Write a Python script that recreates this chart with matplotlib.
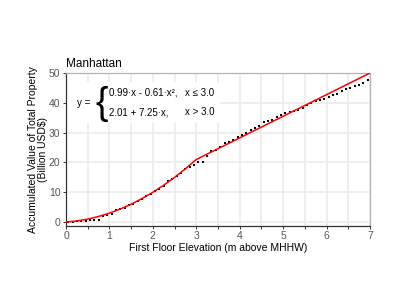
import numpy as np
import matplotlib
matplotlib.use('Agg')
import matplotlib.pyplot as plt
from matplotlib.ticker import MultipleLocator

plt.rcParams['font.family'] = ['Liberation Sans', 'DejaVu Sans']

# observed points (bin midpoints, m above MHHW) and accumulated value (billion USD)
elev = np.round(np.arange(0.05, 7.0, 0.1), 2)
value = [0.2, 0.2, 0.3, 0.45, 0.45, 0.65, 0.7, 0.7, 2.2, 2.5,
         2.8, 3.9, 4.5, 4.9, 5.7, 6.2, 7.0, 7.9, 8.8, 9.4,
         10.4, 11.1, 12.2, 13.9, 14.4, 15.3, 16.4, 17.9, 18.5, 19.3,
         20.0, 20.1, 22.3, 23.7, 24.3, 25.3, 26.4, 27.0, 27.6, 28.7,
         29.1, 30.0, 31.0, 31.6, 32.1, 33.7, 33.9, 34.4, 35.1, 36.0,
         36.6, 36.9, 37.3, 37.7, 38.4, 39.3, 39.8, 40.5, 41.0, 41.4,
         42.1, 42.6, 43.1, 43.8, 44.6, 45.1, 45.7, 46.1, 46.8, 47.6]

# fitted piecewise curve
fit_x = [0, 0.25, 0.5, 0.75, 1.0, 1.25, 1.5, 1.75, 2.0, 2.25, 2.5, 2.75, 3.0, 7.0]
fit_y = [0, 0.4, 1.0, 1.9, 3.0, 4.4, 6.0, 7.9, 10.0, 12.4, 15.0, 17.9, 21.0, 50.0]

fig = plt.figure(figsize=(3.99, 3.08), dpi=100)
ax = fig.add_axes([66/399, 1 - 225.7/308, 304/399, 152.7/308])

ax.scatter(elev, value, marker='s', s=4.5, color='black', linewidths=0, zorder=3)
ax.plot(fit_x, fit_y, color='red', lw=1.1, zorder=4)

ax.set_xlim(0, 7)
ax.set_ylim(-1.2, 50)
ax.xaxis.set_major_locator(MultipleLocator(1))
ax.xaxis.set_minor_locator(MultipleLocator(0.5))
ax.yaxis.set_major_locator(MultipleLocator(10))
ax.grid(True, which='both', axis='x', color='#ebebeb', lw=1.2, zorder=0)
ax.grid(True, which='major', axis='y', color='#ebebeb', lw=1.2, zorder=0)
ax.set_axisbelow(True)

for s in ['left', 'bottom']:
    ax.spines[s].set_color('#333333')
    ax.spines[s].set_linewidth(0.9)
for s in ['top', 'right']:
    ax.spines[s].set_color('#b3b3b3')
    ax.spines[s].set_linewidth(0.9)

ax.tick_params(which='both', length=2.5, width=0.7, color='#333333',
               labelsize=7.5, labelcolor='#555555', pad=1.5)

ax.set_xlabel('First Floor Elevation (m above MHHW)', fontsize=7.5, labelpad=1)
ax.set_ylabel('Accumulated Value of Total Property\n(Billion USD$)', fontsize=7.5,
              labelpad=0.5, linespacing=1.0)
ax.set_title('Manhattan', fontsize=8.5, loc='left', pad=4)

# equation box
ax.add_patch(plt.Rectangle((0.003, 0.673), 0.505, 0.268, transform=ax.transAxes,
                           facecolor='white', edgecolor='none', zorder=2))
ax.text(0.059, 0.804, 'y =', transform=ax.transAxes, fontsize=7,
        ha='center', va='center', zorder=5)
ax.text(0.117, 0.80, '{', transform=ax.transAxes, fontsize=27,
        ha='center', va='center', zorder=5)
ax.text(0.141, 0.871, '0.99·x - 0.61·x²,', transform=ax.transAxes, fontsize=7,
        ha='left', va='center', zorder=5)
ax.text(0.391, 0.871, 'x ≤ 3.0', transform=ax.transAxes, fontsize=7,
        ha='left', va='center', zorder=5)
ax.text(0.141, 0.743, '2.01 + 7.25·x,', transform=ax.transAxes, fontsize=7,
        ha='left', va='center', zorder=5)
ax.text(0.391, 0.743, 'x > 3.0', transform=ax.transAxes, fontsize=7,
        ha='left', va='center', zorder=5)

fig.savefig('out.png', dpi=100)
